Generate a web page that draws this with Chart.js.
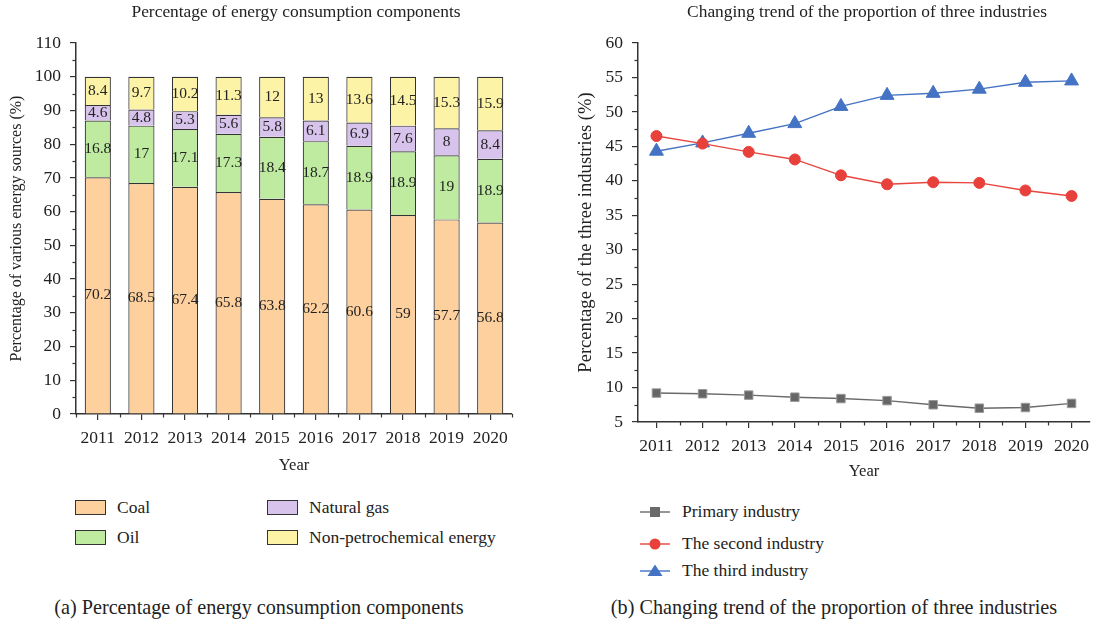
<!DOCTYPE html>
<html><head><meta charset="utf-8">
<script src="https://cdn.jsdelivr.net/npm/chart.js@4.4.1/dist/chart.umd.min.js"></script>
<style>
body{margin:0;width:1115px;height:627px;background:#fff;position:relative;overflow:hidden;font-family:"Liberation Serif",serif;color:#222}
.abs{position:absolute;white-space:nowrap;line-height:1}
.lg{position:absolute;white-space:nowrap;font-size:17.5px;line-height:1}
.box{position:absolute;width:29px;height:13px;border:1.2px solid #333}
</style></head><body>
<canvas id="cL" width="560" height="480" class="abs" style="left:0;top:0"></canvas>
<canvas id="cR" width="545" height="486" class="abs" style="left:570px;top:0"></canvas>

<div class="abs" style="left:296px;top:3px;transform:translateX(-50%);font-size:17.4px">Percentage of energy consumption components</div>
<div class="abs" style="left:867px;top:3px;transform:translateX(-50%);font-size:17.4px">Changing trend of the proportion of three industries</div>

<div id="legL"></div>
<div id="legR"></div>

<div class="abs" style="left:259px;top:597px;transform:translateX(-50%);font-size:20.2px">(a) Percentage of energy consumption components</div>
<div class="abs" style="left:834px;top:597px;transform:translateX(-50%);font-size:20.2px">(b) Changing trend of the proportion of three industries</div>

<script>
const years = ['2011','2012','2013','2014','2015','2016','2017','2018','2019','2020'];
const coal = [70.2,68.5,67.4,65.8,63.8,62.2,60.6,59,57.7,56.8];
const oil = [16.8,17,17.1,17.3,18.4,18.7,18.9,18.9,19,18.9];
const gas = [4.6,4.8,5.3,5.6,5.8,6.1,6.9,7.6,8,8.4];
const nonPetro = [8.4,9.7,10.2,11.3,12,13,13.6,14.5,15.3,15.9];

const primary = [9.2,9.1,8.9,8.6,8.4,8.1,7.5,7.0,7.1,7.7];
const secondary = [46.5,45.4,44.2,43.1,40.8,39.5,39.8,39.7,38.6,37.8];
const tertiary = [44.3,45.5,46.9,48.3,50.8,52.4,52.7,53.3,54.3,54.5];

const energyNames = ['Coal','Oil','Natural gas','Non-petrochemical energy'];
const energyColors = ['#FDD09E','#BEEBA0','#D8C3EC','#FDF3A6'];
const industryNames = ['Primary industry','The second industry','The third industry'];

const FONT = '"Liberation Serif", serif';
const INK = '#222';
const AX = '#333';

// minor ticks plugin
const minorTicks = {
  id:'minorTicks',
  afterDraw(chart, args, opts){
    const ctx = chart.ctx;
    ctx.save();
    ctx.strokeStyle = AX; ctx.lineWidth = 1.2;
    const xs = chart.scales.x, ys = chart.scales.y;
    let xv = (opts.x || []).slice();
    if (opts.xBoundaries) { for (let i=0;i<=xs.ticks.length;i++) xv.push(i-0.5); }
    xv.forEach(v=>{
      const p = Math.round(xs.getPixelForValue(v))+0.5;
      ctx.beginPath(); ctx.moveTo(p, xs.top); ctx.lineTo(p, xs.top+3.5); ctx.stroke();
    });
    (opts.y || []).forEach(v=>{
      const p = Math.round(ys.getPixelForValue(v))+0.5;
      ctx.beginPath(); ctx.moveTo(ys.right, p); ctx.lineTo(ys.right-3.5, p); ctx.stroke();
    });
    ctx.restore();
  }
};

// value labels inside bars
const barLabels = {
  id:'barLabels',
  afterDatasetsDraw(chart){
    const ctx = chart.ctx;
    ctx.save();
    ctx.font = '15.5px ' + FONT;
    ctx.fillStyle = INK;
    ctx.textAlign = 'center'; ctx.textBaseline = 'middle';
    chart.data.datasets.forEach((ds, di)=>{
      const meta = chart.getDatasetMeta(di);
      meta.data.forEach((el, i)=>{
        const y = (el.y + el.base)/2;
        ctx.fillText(String(ds.data[i]), el.x, y);
      });
    });
    ctx.restore();
  }
};

Chart.defaults.font.family = FONT;
Chart.defaults.color = INK;

const tickStyle = {font:{size:17.5, family:FONT}, color:INK};

new Chart(document.getElementById('cL'), {
  type:'bar',
  data:{
    labels: years,
    datasets: [coal, oil, gas, nonPetro].map((d,i)=>({
      label: energyNames[i], data: d, backgroundColor: energyColors[i],
      borderColor:'#333', borderWidth:1.2, barPercentage:0.6, categoryPercentage:1.0
    }))
  },
  options:{
    responsive:false, animation:false,
    layout:{padding:{top:43, right:48, left:0, bottom:0}},
    plugins:{legend:{display:false}, tooltip:{enabled:false},
      minorTicks:{xBoundaries:true, y:[5,15,25,35,45,55,65,75,85,95,105]}},
    scales:{
      x:{stacked:true,
        grid:{offset:false, drawOnChartArea:false, drawTicks:true, tickLength:6, color:AX, lineWidth:1.2},
        border:{display:true, color:AX, width:1.5},
        ticks:{...tickStyle, padding:8, maxRotation:0},
        title:{display:true, text:'Year', font:{size:16.5,family:FONT}, color:INK, padding:{top:3}},
        afterFit(s){ s.height = 66; }
      },
      y:{stacked:true, min:0, max:110,
        grid:{drawOnChartArea:false, drawTicks:true, tickLength:6, color:AX, lineWidth:1.2},
        border:{display:true, color:AX, width:1.5},
        ticks:{...tickStyle, stepSize:10, padding:9},
        title:{display:true, text:'Percentage of various energy sources (%)', font:{size:16,family:FONT}, color:INK, padding:{top:7,bottom:0}},
        afterFit(s){ s.width = 76; }
      }
    }
  },
  plugins:[minorTicks, barLabels]
});

const toXY = arr => arr.map((v,i)=>({x:+years[i], y:v}));

new Chart(document.getElementById('cR'), {
  type:'line',
  data:{
    datasets:[
      {label:industryNames[0], data:toXY(primary), borderColor:'#6a6a6a', backgroundColor:'#666', pointBorderColor:'#9a9a9a',
        pointStyle:'rect', pointRadius:6, pointBorderWidth:1, borderWidth:1.4},
      {label:industryNames[1], data:toXY(secondary), borderColor:'#E8453F', backgroundColor:'#E8413C', pointBorderColor:'#E8413C',
        pointStyle:'circle', pointRadius:5.5, pointBorderWidth:1, borderWidth:1.4},
      {label:industryNames[2], data:toXY(tertiary), borderColor:'#4472C4', backgroundColor:'#4472C4', pointBorderColor:'#4472C4',
        pointStyle:'triangle', pointRadius:8, pointBorderWidth:1, borderWidth:1.4}
    ]
  },
  options:{
    responsive:false, animation:false,
    layout:{padding:{top:43, right:25, left:0, bottom:0}},
    plugins:{legend:{display:false}, tooltip:{enabled:false},
      minorTicks:{x:[2011.5,2012.5,2013.5,2014.5,2015.5,2016.5,2017.5,2018.5,2019.5],
        y:[7.5,12.5,17.5,22.5,27.5,32.5,37.5,42.5,47.5,52.5,57.5]}},
    scales:{
      x:{type:'linear', min:2010.6, max:2020.4,
        grid:{drawOnChartArea:false, drawTicks:true, tickLength:6, color:AX, lineWidth:1.2},
        border:{display:true, color:AX, width:1.5},
        ticks:{...tickStyle, stepSize:1, includeBounds:false, padding:8, maxRotation:0, autoSkip:false, callback:v=>String(v)},
        title:{display:true, text:'Year', font:{size:16.5,family:FONT}, color:INK, padding:{top:3}},
        afterFit(s){ s.height = 64; }
      },
      y:{min:5, max:60,
        grid:{drawOnChartArea:false, drawTicks:true, tickLength:6, color:AX, lineWidth:1.2},
        border:{display:true, color:AX, width:1.5},
        ticks:{...tickStyle, stepSize:5, padding:9},
        title:{display:true, text:'Percentage of the three industries (%)', font:{size:18.6,family:FONT}, color:INK, padding:{top:5,bottom:0}},
        afterFit(s){ s.width = 68; }
      }
    }
  },
  plugins:[minorTicks]
});

// HTML legends
const legL = document.getElementById('legL');
const lpos = [[75,500],[75,530],[267,500],[267,530]];
energyNames.forEach((n,i)=>{
  const [x,y] = lpos[i];
  legL.insertAdjacentHTML('beforeend',
    `<div class="box" style="left:${x}px;top:${y}px;background:${energyColors[i]}"></div>` +
    `<div class="lg" style="left:${x+42}px;top:${y-1}px">${n}</div>`);
});
const legR = document.getElementById('legR');
const rcol = ['#6a6a6a','#E8413C','#4472C4'];
const rys = [512,544,571];
const shapes = [
  c=>`<rect x="10" y="2" width="10" height="10" fill="${c}"/>`,
  c=>`<circle cx="15" cy="7" r="5.5" fill="${c}"/>`,
  c=>`<polygon points="15,0.5 22.5,12 7.5,12" fill="${c}"/>`
];
industryNames.forEach((n,i)=>{
  const y = rys[i];
  legR.insertAdjacentHTML('beforeend',
    `<svg class="abs" style="left:640px;top:${y-7}px" width="30" height="14"><line x1="0" y1="7" x2="30" y2="7" stroke="${rcol[i]}" stroke-width="1.4"/>${shapes[i](rcol[i])}</svg>` +
    `<div class="lg" style="left:682px;top:${y-9}px">${n}</div>`);
});
</script>
</body></html>
